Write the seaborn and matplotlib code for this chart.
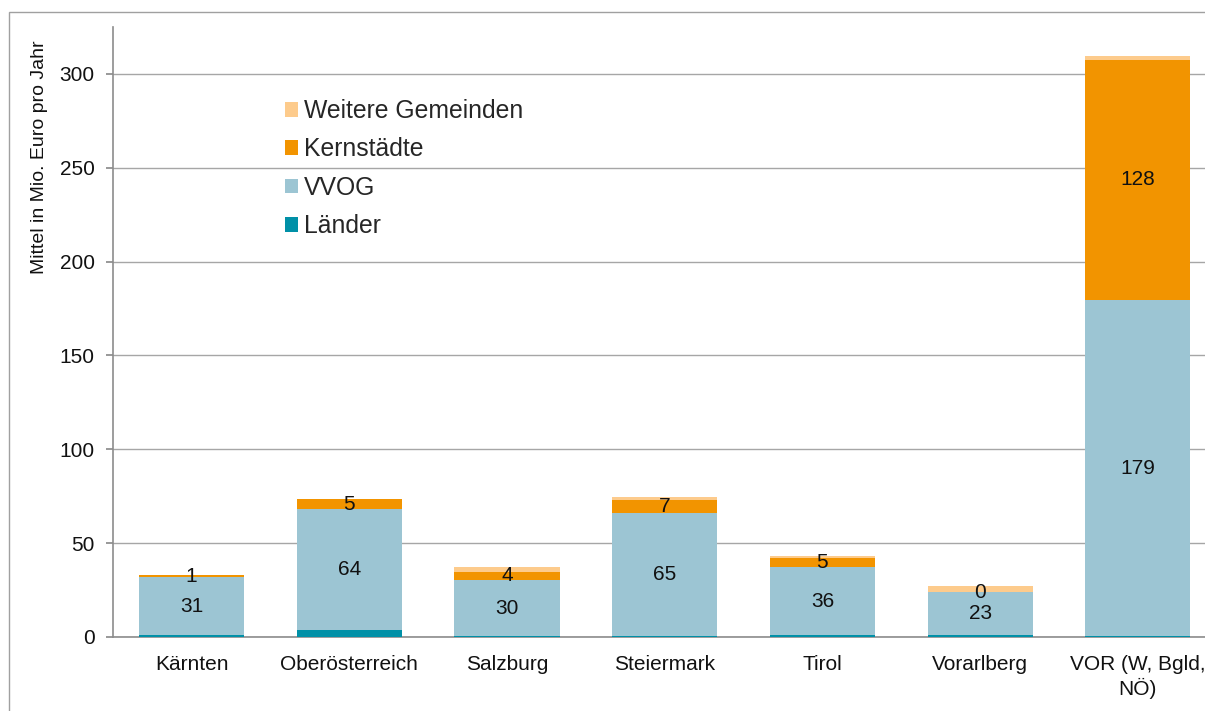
import numpy as np
import pandas as pd
import matplotlib
matplotlib.use("Agg")
import matplotlib.pyplot as plt
from matplotlib.patches import Patch, Rectangle
import seaborn as sns

# ---- Daten ----
regionen = ["Kärnten", "Oberösterreich", "Salzburg", "Steiermark", "Tirol",
            "Vorarlberg", "VOR (W, Bgld,\nNÖ)"]
laender = [0.8, 3.7, 0.3, 0.5, 0.8, 0.8, 0.3]
vvog = [31.4, 64.4, 30.1, 65.4, 36.4, 23.0, 179.4]
kernstaedte = [0.6, 5.2, 4.4, 7.1, 4.8, 0.2, 127.8]
weitere = [0.3, 0.3, 2.6, 1.6, 1.2, 3.2, 1.8]

farben = {"Länder": "#0090a7", "VVOG": "#9cc5d3",
          "Kernstädte": "#f29400", "Weitere Gemeinden": "#fdcb8c"}

df = pd.DataFrame({"region": regionen, "Länder": laender, "VVOG": vvog,
                   "Kernstädte": kernstaedte, "Weitere Gemeinden": weitere})
schichten = ["Länder", "VVOG", "Kernstädte", "Weitere Gemeinden"]
kum = df[schichten].cumsum(axis=1)

sns.set_theme(style="white")
plt.rcParams["font.family"] = ["Liberation Sans", "DejaVu Sans"]

fig = plt.figure(figsize=(12.05, 7.11), dpi=100)
ax = fig.add_axes([112.7 / 1205, 74 / 711, 1104 / 1205, 610 / 711])

# gestapelt: von oben nach unten überzeichnen
for s in reversed(schichten):
    sns.barplot(x=df["region"], y=kum[s], color=farben[s], width=0.666,
                saturation=1, linewidth=0, ax=ax, zorder=3)

# Werte-Beschriftung (VVOG und Kernstädte)
for i in range(len(df)):
    yv = (kum["Länder"][i] + kum["VVOG"][i]) / 2
    ax.text(i, yv, f"{df['VVOG'][i]:.0f}", ha="center", va="center",
            fontsize=15, color="#111111", zorder=5)
    yk = (kum["VVOG"][i] + kum["Kernstädte"][i]) / 2
    ax.text(i, yk, f"{df['Kernstädte'][i]:.0f}", ha="center", va="center",
            fontsize=15, color="#111111", zorder=5)

ax.set_ylim(0, 325)
ax.set_xlim(-0.5, len(df) - 0.5)
ax.set_yticks(np.arange(0, 301, 50))
ax.yaxis.grid(True, color="#a6a6a6", linewidth=1, zorder=0)
ax.set_axisbelow(True)
ax.set_xlabel("")
ax.set_ylabel("")

for side in ["top", "right"]:
    ax.spines[side].set_visible(False)
for side in ["left", "bottom"]:
    ax.spines[side].set_color("#8c8c8c")
    ax.spines[side].set_linewidth(1.2)

ax.set_xticks(np.arange(-0.5, len(df), 1), minor=True)
ax.tick_params(axis="x", which="major", length=0, labelsize=15,
               labelcolor="#111111", pad=13)
ax.tick_params(axis="x", which="minor", length=5, color="#8c8c8c", width=1)
ax.tick_params(axis="y", which="major", left=True, length=5, color="#8c8c8c",
               labelsize=15, labelcolor="#111111", pad=8)

fig.text(39 / 1205, 1 - 40 / 711, "Mittel in Mio. Euro pro Jahr",
         rotation=90, ha="center", va="top", fontsize=14, color="#111111")

handles = [Patch(facecolor=farben[s], edgecolor="none") for s in reversed(schichten)]
fig.legend(handles, list(reversed(schichten)), loc="upper left",
           bbox_to_anchor=(285 / 1205, 1 - 99 / 711), frameon=False,
           fontsize=17.8, handlelength=0.53, handleheight=0.53,
           handletextpad=0.25, labelspacing=0.58, borderpad=0,
           borderaxespad=0)

fig.patches.append(Rectangle((9 / 1205, -0.05), 1.1, 1.05 - 12 / 711,
                             transform=fig.transFigure, fill=False,
                             edgecolor="#a0a0a0", linewidth=1))

fig.savefig("out.png", dpi=100)
